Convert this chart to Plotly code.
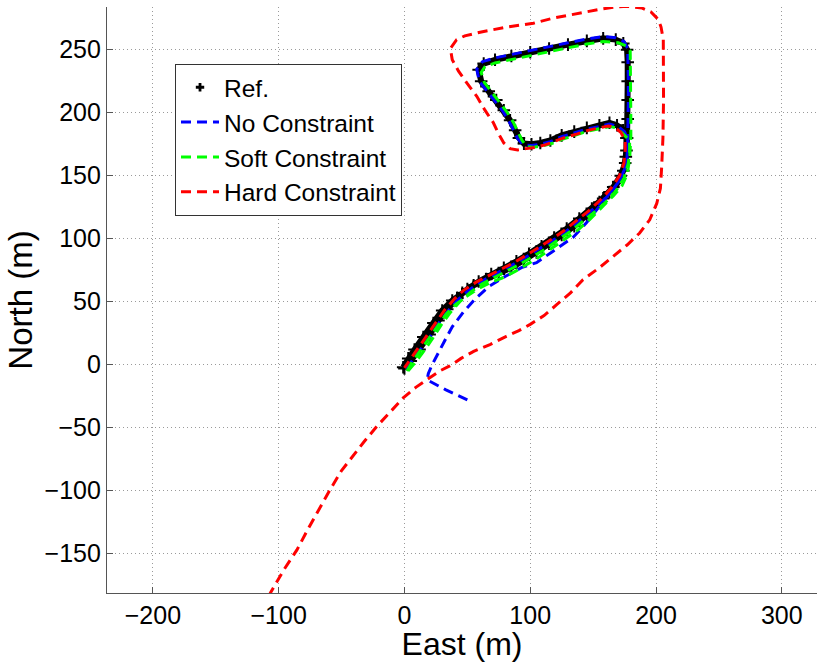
import plotly.graph_objects as go

# ---------------- data ----------------
ref_east = [-1, 3, 8, 15, 23, 30, 38, 46, 55, 65, 75, 85, 95, 105, 115, 125, 135, 145, 155, 163,
            170, 174, 176, 177, 177.5, 177.5, 177.5, 177.5, 177, 174, 168, 158, 145, 130, 115, 100,
            85, 72, 63, 59, 61, 67, 73, 79, 84, 88, 91, 95, 101, 108, 116, 125, 135, 145, 155, 163,
            169, 174, 176.5, 176.5, 175.5, 172, 166, 158, 149, 139, 129, 119, 109, 99, 89, 79, 69,
            59, 50, 42, 34, 27, 20, 12, 5, 0]
ref_north = [-2, 5, 12, 22, 33, 43, 51, 57, 63, 68, 72, 77, 83, 89, 96, 103, 110, 119, 129, 137,
             145, 154, 165, 180, 195, 210, 225, 240, 250, 255, 258, 259, 257, 254, 251, 248,
             245, 242, 239, 234, 225, 217, 210, 202, 194, 186, 180, 175.5, 175, 176, 178, 182, 185, 188, 190, 192,
             190, 186, 180, 170, 160, 150, 141, 132, 124, 116, 108, 101, 94, 88, 82, 77, 72,
             66, 60, 53, 44, 35, 24, 12, 3, -3]

nocon_east = [50, 33, 18, 19, 22, 26, 32, 38, 47, 56, 67, 80, 93, 105, 120, 134, 145, 155, 164, 171,
              175, 177, 177.5, 178, 178, 178, 178, 177.5, 174.5, 168, 158, 145, 130, 115, 100, 85,
              72, 62, 57.5, 59.5, 66, 72, 78, 83, 87, 90, 94.5, 101, 108, 116, 125, 135, 145, 155,
              163, 170, 175, 177.5, 177.5, 176.5, 173, 167, 159, 150, 140, 130, 120, 110, 100, 90,
              80, 70, 60, 51, 43, 35, 28, 21, 13, 6, 1]
nocon_north = [-28, -20, -12, -7, 0, 8, 19, 30, 42, 52, 62, 70, 77, 81, 91, 101, 113, 126, 137, 146,
               155, 165, 179, 195, 210, 225, 240, 251, 256.5, 259.5, 260.5, 258.5, 255.5, 252.5, 249.5, 246.5,
               243.5, 240.5, 234.5, 225, 217, 209.5, 201.5, 193.5, 185.5, 179.5, 174.5, 174, 175, 177, 181, 184, 187, 189,
               191, 189, 185, 179, 170, 160, 150, 140.5, 131.5, 123.5, 115, 107, 100, 93.5, 87.5, 81.5,
               76, 71, 65.5, 59, 52, 43, 34, 23, 12, 3, -3]

soft_east = [2, 6, 11, 18, 26, 33, 41, 49, 58, 68, 78, 88, 98, 108, 118, 128, 138, 148, 158, 166,
             173, 177, 179, 180, 180, 180, 180, 180, 179.5, 176.5, 170, 158, 145, 130, 115, 100, 85,
             72, 64, 61, 63.5, 69.5, 75.5, 81.5, 86.5, 90.5, 93.5, 97.5, 102, 109, 117, 126, 136, 146,
             156, 163.5, 168, 173, 179, 179, 178, 174.5, 168.5, 160.5, 151.5, 141.5, 131.5, 121.5,
             111.5, 101.5, 91.5, 81.5, 71.5, 61.5, 52.5, 44.5, 36.5, 29.5, 22.5, 14.5, 7.5, 2.5]
soft_north = [-5, 2, 9, 19, 30, 40, 48, 54, 60, 65, 69, 74, 80, 86, 93, 100, 107, 116, 126, 134,
              142, 151, 163, 180, 195, 210, 225, 240, 249, 253, 255.5, 256.5, 254.5, 251.5, 248.5, 245.5, 242.5,
              239.5, 236.5, 232, 224, 216, 208.5, 200.5, 192.5, 184.5, 178, 173, 172.5, 173.5, 175.5, 179, 182.5, 185.5,
              187.5, 189, 188, 184, 178, 170, 160, 148, 138.5, 129.5, 121.5, 113.5, 105.5, 98.5,
              91.5, 85.5, 79.5, 74.5, 69.5, 64, 57.5, 50.5, 41.5, 32, 21, 9.5, 0.5, -5.5]

hard_east = [-108, -106.5, -96, -85.5, -77, -69.6, -59, -50, -43, -32, -22, -11, -1, 9, 18, 28, 36, 45,
             55, 68, 81, 91, 100, 111, 121, 132, 142, 155, 166, 177, 187, 195, 200.6, 203.5, 204.5,
             205.5, 206, 206, 205.8, 204, 201.8, 196, 189, 177, 168, 155, 134, 118, 102.5, 82, 63, 48,
             41.5, 36.5, 38, 43, 50, 57.5, 64, 70.7, 75, 79, 84, 90, 97, 104, 112, 120, 128, 137, 146,
             155, 162, 167, 172, 175.5, 175.5, 174.5, 171, 165, 157, 147, 137, 127, 117, 107, 97, 87,
             77, 67, 57, 47, 40, 32, 25, 17, 10, 4, 0]
hard_north = [-184, -181, -163, -147, -131, -117.7, -99, -84, -75, -61, -49, -37, -26.4, -18, -12, -5, -1, 5,
              10.6, 16, 22.5, 27, 32, 39, 47.6, 57, 67.5, 77, 86, 95, 104.5, 115, 128, 140, 157,
              180, 210, 235, 258, 268, 274, 280, 283, 284.4, 284, 282, 278, 275, 271, 268, 264.5, 261,
              258, 251, 242, 233, 223, 213, 202, 192, 183, 176, 171.5, 170.5, 171.5, 172.5, 174.5, 177.5, 180.5, 183, 186,
              188, 189.5, 188.5, 184.5, 178, 170, 160, 150, 141, 132, 122.5, 114.5, 106.5, 99.5, 93, 87, 81,
              76, 71, 65.5, 59, 52.5, 43.5, 33.5, 22.5, 12.5, 3.5, -2.5]

series_names = ["Ref.", "No Constraint", "Soft Constraint", "Hard Constraint"]
x_ticks = [-200, -100, 0, 100, 200, 300]
y_ticks = [-150, -100, -50, 0, 50, 100, 150, 200, 250]

FONT = "Liberation Sans, Arial, Helvetica, sans-serif"
DASH = "10px,6px"

fig = go.Figure()

# Reference trajectory (drawn as dense "+" markers on a black path)
fig.add_trace(go.Scatter(
    x=ref_east, y=ref_north, mode="lines+markers", showlegend=False,
    line=dict(color="black", width=6),
    marker=dict(symbol="cross-thin", size=9, line=dict(color="black", width=2)),
    hoverinfo="skip"))
fig.add_trace(go.Scatter(
    x=[None], y=[None], mode="markers", name=series_names[0],
    marker=dict(symbol="cross", size=7, color="black")))

fig.add_trace(go.Scatter(x=nocon_east, y=nocon_north, mode="lines", name=series_names[1],
                         line=dict(color="#0000ff", width=3, dash=DASH)))
fig.add_trace(go.Scatter(x=soft_east, y=soft_north, mode="lines", name=series_names[2],
                         line=dict(color="#00ff00", width=3, dash=DASH)))
fig.add_trace(go.Scatter(x=hard_east, y=hard_north, mode="lines", name=series_names[3],
                         line=dict(color="#ff0000", width=3, dash=DASH)))

axis_common = dict(
    showgrid=True, gridcolor="#9a9a9a", griddash="1px,3px", gridwidth=1,
    zeroline=False, showline=True, linecolor="#555555", linewidth=1.3,
    ticks="inside", ticklen=6, tickcolor="#555555", tickwidth=1,
    tickfont=dict(family=FONT, size=25, color="black"),
    mirror=False,
)

fig.update_layout(
    width=817, height=662,
    margin=dict(l=107, r=0, t=7, b=69),
    paper_bgcolor="white", plot_bgcolor="white",
    font=dict(family=FONT, color="black"),
    xaxis=dict(range=[-236.5, 328], tickvals=x_ticks,
               title=dict(text="East (m)", font=dict(family=FONT, size=32), standoff=4),
               **axis_common),
    yaxis=dict(range=[-181.2, 283.9], tickvals=y_ticks,
               title=dict(text="North (m)", font=dict(family=FONT, size=33), standoff=1),
               **axis_common),
    legend=dict(x=0.0958, y=0.903, xanchor="left", yanchor="top",
                bgcolor="white", bordercolor="#333333", borderwidth=1,
                font=dict(family=FONT, size=24.5, color="black"),
                tracegroupgap=0, itemwidth=38),
    showlegend=True,
)

fig.write_html("out.html")
